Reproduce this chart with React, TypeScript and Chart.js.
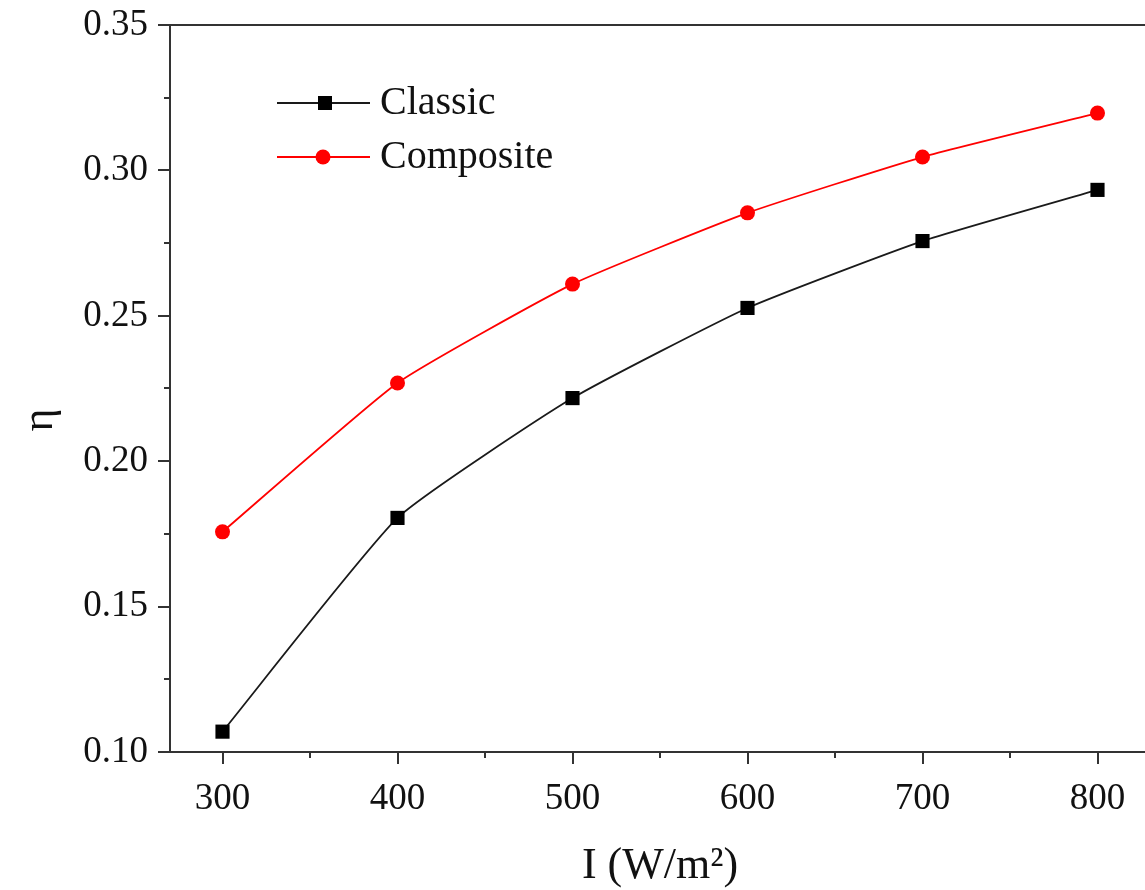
import React, { useEffect, useRef } from "react";
import { Chart, registerables } from "chart.js";

Chart.register(...registerables);

const irradiance = [300, 400, 500, 600, 700, 800];
const classicEta = [0.107, 0.1805, 0.2217, 0.2527, 0.2757, 0.2933];
const compositeEta = [0.1757, 0.2269, 0.2609, 0.2854, 0.3046, 0.3197];
const xMajorTicks = [300, 400, 500, 600, 700, 800];
const xMinorTicks = [350, 450, 550, 650, 750];
const yMinorTicks = [0.125, 0.175, 0.225, 0.275, 0.325];
const seriesLabels = ["Classic", "Composite"];
const xTitle = "I (W/m²)";
const yTitle = "η";

const FONT = "'Liberation Serif', 'Times New Roman', serif";
const AXIS_COLOR = "#333";

const framePlugin = {
  id: "frameAndMinor",
  afterDraw(chart: any) {
    const { ctx, chartArea, scales } = chart;
    ctx.save();
    ctx.strokeStyle = AXIS_COLOR;
    ctx.lineWidth = 2;
    ctx.strokeRect(chartArea.left, chartArea.top, chartArea.right - chartArea.left, chartArea.bottom - chartArea.top);
    // minor ticks
    ctx.beginPath();
    for (const v of xMinorTicks) {
      const px = Math.round(scales.x.getPixelForValue(v));
      ctx.moveTo(px, chartArea.bottom);
      ctx.lineTo(px, chartArea.bottom + 6);
    }
    for (const v of yMinorTicks) {
      const py = Math.round(scales.y.getPixelForValue(v));
      ctx.moveTo(chartArea.left, py);
      ctx.lineTo(chartArea.left - 6, py);
    }
    ctx.stroke();

    // y title
    ctx.fillStyle = "#111";
    ctx.font = `44px ${FONT}`;
    ctx.textAlign = "center";
    ctx.textBaseline = "middle";
    ctx.save();
    ctx.translate(40, 420);
    ctx.rotate(-Math.PI / 2);
    ctx.fillText(yTitle, 0, 0);
    ctx.restore();

    // x title
    ctx.font = `44px ${FONT}`;
    ctx.textAlign = "center";
    ctx.textBaseline = "middle";
    ctx.fillText(xTitle, 660, 866);

    // legend
    const rows = [
      { y: 103, color: "#1a1a1a", style: "rect", label: seriesLabels[0] },
      { y: 157, color: "#ff0000", style: "circle", label: seriesLabels[1] },
    ];
    for (const r of rows) {
      ctx.strokeStyle = r.color;
      ctx.lineWidth = 2;
      ctx.beginPath();
      ctx.moveTo(277, r.y);
      ctx.lineTo(370, r.y);
      ctx.stroke();
      ctx.fillStyle = r.style === "rect" ? "#000" : "#ff0000";
      if (r.style === "rect") {
        ctx.fillRect(325 - 7, r.y - 7, 14, 14);
      } else {
        ctx.beginPath();
        ctx.arc(323, r.y, 7.5, 0, Math.PI * 2);
        ctx.fill();
      }
      ctx.fillStyle = "#111";
      ctx.font = `40px ${FONT}`;
      ctx.textBaseline = "middle";
      ctx.textAlign = "left";
      ctx.fillText(r.label, 380, r.y);
    }
    ctx.restore();
  },
};

export default function App() {
  const ref = useRef<HTMLCanvasElement | null>(null);
  useEffect(() => {
    document.body.style.margin = "0";
    const canvas = ref.current!;
    const chart = new Chart(canvas, {
      type: "line",
      data: {
        datasets: [
          {
            label: seriesLabels[0],
            data: irradiance.map((x, i) => ({ x, y: classicEta[i] })),
            borderColor: "#1a1a1a",
            backgroundColor: "#000",
            borderWidth: 1.8,
            pointStyle: "rect",
            pointRadius: 10,
            pointBorderWidth: 0,
            tension: 0.15,
          },
          {
            label: seriesLabels[1],
            data: irradiance.map((x, i) => ({ x, y: compositeEta[i] })),
            borderColor: "#ff0000",
            backgroundColor: "#ff0000",
            borderWidth: 1.8,
            pointStyle: "circle",
            pointRadius: 7.5,
            pointBorderWidth: 0,
            tension: 0.15,
          },
        ],
      },
      options: {
        responsive: false,
        animation: false,
        layout: { padding: { left: 0, top: 25, right: 20, bottom: 0 } },
        plugins: { legend: { display: false }, tooltip: { enabled: false } },
        scales: {
          x: {
            type: "linear",
            min: 270,
            max: 830,
            afterBuildTicks: (scale: any) => {
              scale.ticks = xMajorTicks.map((v) => ({ value: v }));
            },
            afterFit: (scale: any) => {
              scale.height = 138;
              scale.paddingLeft = 0;
              scale.paddingRight = 0;
            },
            grid: { drawOnChartArea: false, drawTicks: true, tickLength: 12, color: AXIS_COLOR, lineWidth: 2 },
            border: { display: true, color: AXIS_COLOR, width: 2 },
            ticks: { color: "#111", font: { family: FONT, size: 37 }, padding: 13, maxRotation: 0, autoSkip: false },
            title: { display: false },
          },
          y: {
            type: "linear",
            min: 0.1,
            max: 0.35,
            ticks: {
              stepSize: 0.05,
              color: "#111",
              font: { family: FONT, size: 37 },
              padding: 10,
              callback: (v: any) => Number(v).toFixed(2),
            },
            afterFit: (scale: any) => {
              scale.width = 170;
              scale.paddingTop = 0;
              scale.paddingBottom = 0;
            },
            grid: { drawOnChartArea: false, drawTicks: true, tickLength: 12, color: AXIS_COLOR, lineWidth: 2 },
            border: { display: true, color: AXIS_COLOR, width: 2 },
            title: { display: false },
          },
        },
      },
      plugins: [framePlugin],
    } as any);
    return () => chart.destroy();
  }, []);
  return (
    <div style={{ width: 1145, height: 890, overflow: "hidden", background: "#fff" }}>
      <canvas ref={ref} width={1170} height={890} style={{ width: 1170, height: 890, display: "block" }} />
    </div>
  );
}
